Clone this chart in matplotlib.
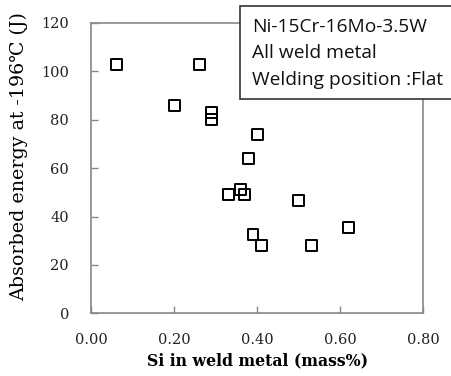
import matplotlib
matplotlib.use("Agg")
import matplotlib.pyplot as plt
from matplotlib.patches import Rectangle

si = [0.06, 0.26, 0.20, 0.29, 0.29, 0.40, 0.38, 0.33, 0.36, 0.37, 0.50, 0.39, 0.41, 0.53, 0.62]
energy = [103, 103, 86, 83, 80, 74, 64, 49, 51, 49, 46.5, 32.5, 28, 28, 35.3]
xticks = [0.0, 0.2, 0.4, 0.6, 0.8]
xticklabels = ["0.00", "0.20", "0.40", "0.60", "0.80"]
yticks = [0, 20, 40, 60, 80, 100, 120]
box_lines = ["Ni-15Cr-16Mo-3.5W", "All weld metal", "Welding position :Flat"]

W, H = 452, 376
fig = plt.figure(figsize=(W/100, H/100), dpi=100)
ax = fig.add_axes([91.3/W, 1-313.3/H, (423-91.3)/W, (313.3-23)/H])
ax.scatter(si, energy, marker="s", s=62, facecolors="none", edgecolors="black", linewidths=1.4, zorder=3)
ax.set_xlim(0, 0.8)
ax.set_ylim(0, 120)
ax.set_xticks(xticks)
ax.set_xticklabels(xticklabels)
ax.set_yticks(yticks)
serif = ["DejaVu Serif", "DejaVu Sans"]
for lab in ax.get_xticklabels() + ax.get_yticklabels():
    lab.set_family(serif)
    lab.set_fontsize(11.5)
    lab.set_color("#222222")
ax.tick_params(direction="in", length=5, width=1, color="#888888")
ax.tick_params(axis="x", pad=14)
ax.tick_params(axis="y", pad=16)
for s in ax.spines.values():
    s.set_color("#888888")
    s.set_linewidth(1.2)
xl = ax.set_xlabel("Si in weld metal (mass%)", family=serif, fontweight="bold", fontsize=11.5, labelpad=4)
yl = ax.set_ylabel("Absorbed energy at -196℃ (J)", family=serif, fontsize=13, labelpad=4)
ax.yaxis.set_label_coords(-0.19, 0.54)

# annotation box
x0, y0 = 240.3, 6
rect = Rectangle((x0/W, 1-99/H), (470-x0)/W, (99-6)/H, transform=fig.transFigure,
                 facecolor="white", edgecolor="#333333", linewidth=1.2, clip_on=False, zorder=5)
fig.add_artist(rect)
texts = []
for i, t in enumerate(box_lines):
    texts.append(fig.text(252/W, 1-(31.7 + i*26.7)/H, t, family=["Open Sans", "DejaVu Sans"], fontsize=13.5,
                          va="baseline", ha="left", color="#111111", zorder=6))

# fit text sizes to the reference's measured text widths (px)
fig.canvas.draw()
r = fig.canvas.get_renderer()
def fit(artist, target, horizontal=True):
    bb = artist.get_window_extent(r)
    w = bb.width if horizontal else bb.height
    return artist.get_fontsize() * target / w

fs_box = (fit(texts[0], 177) + fit(texts[2], 190)) / 2
for t in texts:
    t.set_fontsize(fs_box)
xl.set_fontsize(fit(xl, 221))
yl.set_fontsize(fit(yl, 287, horizontal=False))
fs_tick = fit(ax.get_xticklabels()[0], 32.5)
for lab in ax.get_xticklabels() + ax.get_yticklabels():
    lab.set_fontsize(fs_tick)

fig.savefig("out.png", dpi=100)
